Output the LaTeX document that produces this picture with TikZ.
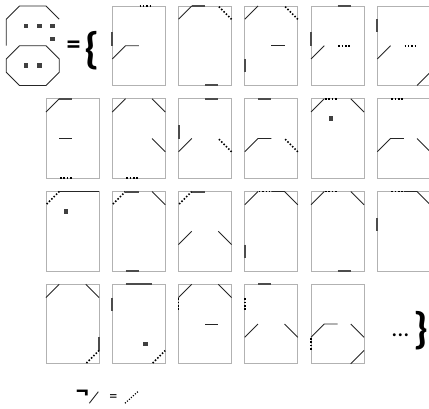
\documentclass[tikz,border=0pt]{standalone}
\usepackage{fontspec}
\newfontfamily\calfont{Carlito}
\usepackage{tikz}

\newcommand\pixat[1]{\fill[pix] (#1) ++(-0.17,-0.17) rectangle ++(0.34,0.34);}

\begin{document}
\begin{tikzpicture}[
  x=13.25pt, y=-13.25pt,
  frame/.style={draw=black!30, line width=0.8pt},
  seg/.style={draw=black!85, line width=0.9pt},
  rim/.style={draw=black!70, line width=2pt},
  nope/.style={draw=black, line width=1.6pt, dash pattern=on 1.5pt off 1.81pt, dash phase=2.4pt},
  pix/.style={fill=black!75},
  sym/.style={inner sep=0pt, font=\calfont}
]
\useasboundingbox (-3.4717,-0.4528) rectangle (28.906,30.340);

% the pattern
\draw[seg] (-3,3) -- (-3,1) -- (-2,0) -- (0,0) -- (1,1);
\pixat{-1.5,1.5} \pixat{-0.5,1.5} \pixat{0.5,1.5} \pixat{0.5,2.5}
\draw[seg] (-2,3) -- (0,3) -- (1,4) -- (1,5) -- (0,6) -- (-2,6) -- (-3,5) -- (-3,4) -- cycle;
\pixat{-1.5,4.5} \pixat{-0.5,4.5}
\node[sym, font=\calfont\bfseries\fontsize{28}{30}\selectfont] (eq) at (2.075,3.147) {=};
\node[sym, font=\calfont\bfseries\fontsize{44}{48}\selectfont] (lbrace) at (3.51,3.40) {\{};

% frames
\foreach \c in {1,...,5} \draw[frame] (5*\c,0) rectangle ++(4,6);
\foreach \r in {1,2} \foreach \c in {0,...,5} \draw[frame] (5*\c,7*\r) rectangle ++(4,6);
\foreach \c in {0,...,4} \draw[frame] (5*\c,21) rectangle ++(4,6);

% row 1
\begin{scope}[shift={(5,0)}]
  \draw[nope] (2,0) -- (3,0);
  \draw[rim] (0,2) -- (0,3);
  \draw[seg] (0,4) -- (1,3) -- (2,3);
\end{scope}
\begin{scope}[shift={(10,0)}]
  \draw[seg] (0,1) -- (1,0);
  \draw[rim] (1,0) -- (2,0);
  \draw[nope] (3,0) -- (4,1);
  \draw[rim] (2,6) -- (3,6);
\end{scope}
\begin{scope}[shift={(15,0)}]
  \draw[seg] (0,1) -- (1,0);
  \draw[nope] (3,0) -- (4,1);
  \draw[seg] (2,3) -- (3,3);
  \draw[rim] (0,4) -- (0,5);
\end{scope}
\begin{scope}[shift={(20,0)}]
  \draw[rim] (2,0) -- (3,0);
  \draw[rim] (0,2) -- (0,3);
  \draw[seg] (0,4) -- (1,3);
  \draw[nope] (2,3) -- (3,3);
\end{scope}
\begin{scope}[shift={(25,0)}]
  \draw[rim] (0,1) -- (0,2);
  \draw[seg] (0,4) -- (1,3);
  \draw[nope] (2,3) -- (3,3);
  \draw[seg] (3,6) -- (4,5);
\end{scope}

% row 2
\begin{scope}[shift={(0,7)}]
  \draw[seg] (0,1) -- (1,0);
  \draw[rim] (1,0) -- (2,0);
  \draw[seg] (1,3) -- (2,3);
  \draw[nope] (1,6) -- (2,6);
\end{scope}
\begin{scope}[shift={(5,7)}]
  \draw[seg] (0,1) -- (1,0);
  \draw[seg] (3,0) -- (4,1);
  \draw[seg] (3,3) -- (4,4);
  \draw[nope] (1,6) -- (2,6);
\end{scope}
\begin{scope}[shift={(10,7)}]
  \draw[rim] (2,0) -- (3,0);
  \draw[rim] (0,2) -- (0,3);
  \draw[seg] (0,4) -- (1,3);
  \draw[nope] (3,3) -- (4,4);
\end{scope}
\begin{scope}[shift={(15,7)}]
  \draw[rim] (1,0) -- (2,0);
  \draw[seg] (0,4) -- (1,3) -- (2,3);
  \draw[nope] (3,3) -- (4,4);
\end{scope}
\begin{scope}[shift={(20,7)}]
  \draw[seg] (0,1) -- (1,0);
  \draw[nope] (1,0) -- (2,0);
  \draw[seg] (3,0) -- (4,1);
  \pixat{1.5,1.5}
\end{scope}
\begin{scope}[shift={(25,7)}]
  \draw[nope] (1,0) -- (2,0);
  \draw[seg] (0,4) -- (1,3) -- (2,3);
  \draw[seg] (3,3) -- (4,4);
\end{scope}

% row 3
\begin{scope}[shift={(0,14)}]
  \draw[nope] (0,1) -- (1,0);
  \draw[seg] (1,0) -- (4,0);
  \pixat{1.5,1.5}
\end{scope}
\begin{scope}[shift={(5,14)}]
  \draw[nope] (0,1) -- (1,0);
  \draw[rim] (1,0) -- (2,0);
  \draw[seg] (3,0) -- (4,1);
  \draw[rim] (1,6) -- (2,6);
\end{scope}
\begin{scope}[shift={(10,14)}]
  \draw[nope] (0,1) -- (1,0);
  \draw[rim] (1,0) -- (2,0);
  \draw[seg] (0,4) -- (1,3);
  \draw[seg] (3,3) -- (4,4);
\end{scope}
\begin{scope}[shift={(15,14)}]
  \draw[seg] (0,1) -- (1,0);
  \draw[nope] (1,0) -- (2,0);
  \draw[seg] (2,0) -- (3,0) -- (4,1);
  \draw[rim] (0,4) -- (0,5);
\end{scope}
\begin{scope}[shift={(20,14)}]
  \draw[seg] (0,1) -- (1,0);
  \draw[nope] (1,0) -- (2,0);
  \draw[seg] (3,0) -- (4,1);
  \draw[rim] (2,6) -- (3,6);
\end{scope}
\begin{scope}[shift={(25,14)}]
  \draw[nope] (1,0) -- (2,0);
  \draw[seg] (2,0) -- (3,0) -- (4,1);
  \draw[rim] (0,2) -- (0,3);
\end{scope}

% row 4
\begin{scope}[shift={(0,21)}]
  \draw[seg] (0,1) -- (1,0);
  \draw[seg] (3,0) -- (4,1);
  \draw[rim] (4,4) -- (4,5);
  \draw[nope] (3,6) -- (4,5);
\end{scope}
\begin{scope}[shift={(5,21)}]
  \draw[rim] (1,0) -- (3,0);
  \draw[rim] (0,1) -- (0,2);
  \pixat{2.5,4.5}
  \draw[nope] (3,6) -- (4,5);
\end{scope}
\begin{scope}[shift={(10,21)}]
  \draw[seg] (0,1) -- (1,0);
  \draw[seg] (3,0) -- (4,1);
  \draw[nope] (0,1) -- (0,2);
  \draw[seg] (2,3) -- (3,3);
\end{scope}
\begin{scope}[shift={(15,21)}]
  \draw[rim] (1,0) -- (2,0);
  \draw[nope] (0,1) -- (0,2);
  \draw[seg] (0,4) -- (1,3);
  \draw[seg] (3,3) -- (4,4);
\end{scope}
\begin{scope}[shift={(20,21)}]
  \draw[seg] (0,4) -- (1,3) -- (2,3);
  \draw[nope] (0,4) -- (0,5);
  \draw[seg] (3,3) -- (4,4);
  \draw[seg] (3,6) -- (4,5);
\end{scope}
\node[sym, font=\calfont\fontsize{24}{26}\selectfont] (dots) at (26.75,24.83) {...};
\node[sym, font=\calfont\bfseries\fontsize{44}{48}\selectfont] (rbrace) at (28.30,24.53) {\}};

% note
\node[sym, font=\calfont\bfseries\fontsize{26}{28}\selectfont] (neg) at (2.75,29.36) {¬};
\coordinate (sa) at (3.27,29.98);
\coordinate (sb) at (3.95,29.11);
\draw[seg] (sa) -- (sb);
\node[sym, font=\calfont\fontsize{16}{18}\selectfont] (eqb) at (5.09,29.61) {=};
\coordinate (da) at (5.96,29.98);
\coordinate (db) at (7.02,29.03);
\draw[nope, line width=1.2pt, dash pattern=on 1.1pt off 1.6pt, dash phase=0pt] (da) -- (db);
\end{tikzpicture}
\end{document}
